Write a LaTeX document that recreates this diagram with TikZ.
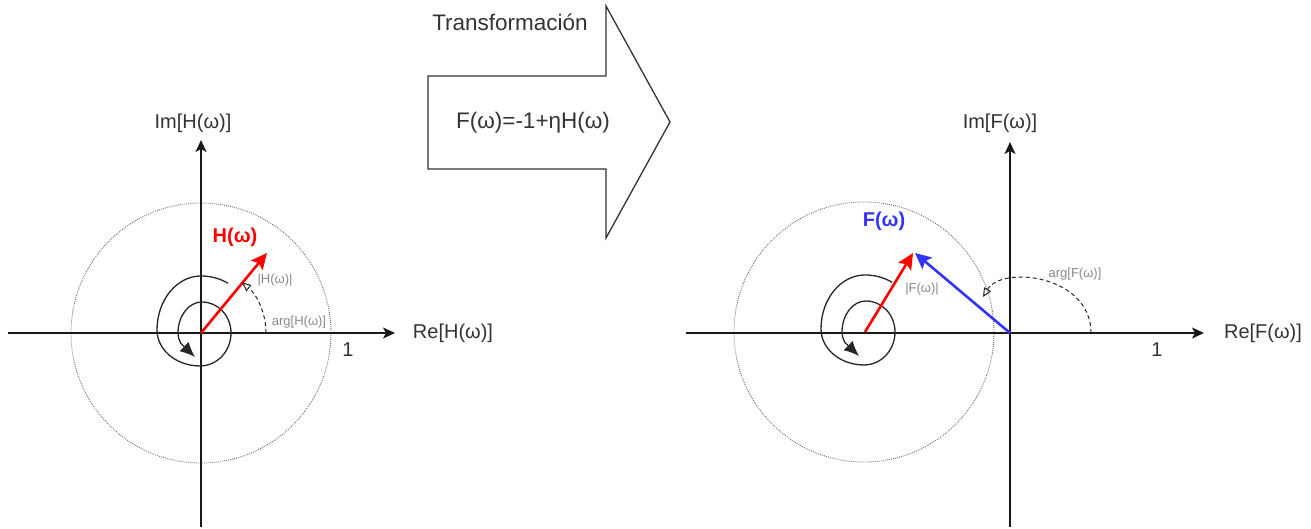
\documentclass[tikz,border=0pt]{standalone}
\usepackage{fontspec}
\setmainfont{Liberation Sans}
\usetikzlibrary{arrows.meta}
\definecolor{txt}{HTML}{333333}
\definecolor{lbl}{HTML}{8A8A8A}
\definecolor{myred}{HTML}{FF0000}
\definecolor{myblue}{HTML}{3333FF}
\definecolor{circ}{HTML}{606060}
\begin{document}
\begin{tikzpicture}[x=1pt,y=-1pt,
  axisline/.style={line width=1.4pt, draw=black!90, -{Stealth[length=12pt,width=11pt,inset=3pt]}},
  unitcirc/.style={line width=0.9pt, draw=circ, dash pattern=on 0.8pt off 1.2pt},
  bigtxt/.style={font=\fontsize{20}{24}\selectfont, text=txt, inner sep=0pt},
  arrtxt/.style={font=\fontsize{22.5}{26}\selectfont, text=txt, inner sep=0pt},
  smalltxt/.style={font=\fontsize{13}{15}\selectfont, text=lbl, inner sep=0pt},
  vecred/.style={line width=2.6pt, draw=myred, -{Stealth[length=16pt,width=15pt,inset=3pt]}},
  vecblue/.style={line width=2.6pt, draw=myblue, -{Stealth[length=16pt,width=15pt,inset=3pt]}},
  argarc/.style={line width=1pt, draw=black!85, dash pattern=on 4pt off 3pt, -{Triangle[open,length=9pt,width=8pt]}},
  spiralline/.style={line width=1.3pt, draw=black!85, -{Latex[length=15pt,width=13pt]}},
  spiralpic/.pic={\draw[spiralline] (27,-49.8)
      arc[start angle=-60, end angle=-90, radius=54]
      arc[start angle=-90, end angle=-180, x radius=44, y radius=54]
      arc[start angle=-180, end angle=-270, x radius=43, y radius=36]
      arc[start angle=-270, end angle=-360, x radius=31, y radius=33]
      arc[start angle=0, end angle=-90, x radius=29, y radius=31]
      arc[start angle=-90, end angle=-180, x radius=24, y radius=31]
      arc[start angle=-180, end angle=-215, x radius=15, y radius=18]
      -- (-6,24);}
]
\useasboundingbox (0,0) rectangle (1311,528);

% ---------- left plane ----------
\coordinate (O1) at (201,333);
\coordinate (xl1) at (8,333);
\coordinate (xr1) at (395,333);
\coordinate (yb1) at (201,527);
\coordinate (yt1) at (201,140);
\coordinate (H) at (267,253);
\draw[unitcirc] (O1) circle[radius=130];
\draw[axisline] (xl1) -- (xr1);
\draw[axisline] (yb1) -- (yt1);
\pic at (O1) {spiralpic};
\draw[vecred] (O1) -- (H);
\coordinate (a1) at (266,333);
\draw[argarc] (a1) arc[start angle=0, end angle=-51, radius=65];
\node[bigtxt] (im1) at (193,123) {Im[H(ω)]};
\node[bigtxt] (re1) at (453,333) {Re[H(ω)]};
\node[bigtxt] (one1) at (348,350) {1};
\node[font=\bfseries\fontsize{20}{24}\selectfont, text=myred, inner sep=0pt] (hl) at (235,237) {H(ω)};
\node[smalltxt] (mag1) at (275,280) {|H(ω)|};
\node[smalltxt] (arg1) at (299,322) {arg[H(ω)]};

% ---------- transformation arrow ----------
\draw[line width=1.3pt, draw=txt, line join=miter] (428,76) -- (606,76) -- (606,6) -- (670,122) -- (606,238) -- (606,169) -- (428,169) -- cycle;
\node[arrtxt] (trans) at (510,22) {Transformación};
\node[arrtxt] (formula) at (533,123) {F(ω)=-1+ηH(ω)};

% ---------- right plane ----------
\coordinate (O2) at (865,332);
\coordinate (Z2) at (1010,333);
\coordinate (xl2) at (686,333);
\coordinate (xr2) at (1204,333);
\coordinate (yb2) at (1010,527);
\coordinate (yt2) at (1010,142);
\coordinate (Ftip) at (913,253);
\coordinate (Fbtip) at (915,253);
\draw[unitcirc] (864,332) circle[radius=130];
\draw[axisline] (xl2) -- (xr2);
\draw[axisline] (yb2) -- (yt2);
\pic at (O2) {spiralpic};
\draw[vecred] (O2) -- (Ftip);
\draw[vecblue] (Z2) -- (Fbtip);
\coordinate (a2) at (1091,333);
\coordinate (a2end) at (983,297);
\draw[argarc] (a2) .. controls (1091,275) and (1002,265) .. (a2end);
\node[bigtxt] (im2) at (1000,123) {Im[F(ω)]};
\node[bigtxt] (re2) at (1263,333) {Re[F(ω)]};
\node[bigtxt] (one2) at (1157,350) {1};
\node[font=\bfseries\fontsize{20}{24}\selectfont, text=myblue, inner sep=0pt] (fl) at (884,221) {F(ω)};
\node[smalltxt] (mag2) at (922,289) {|F(ω)|};
\node[smalltxt] (arg2) at (1075,274) {arg[F(ω)]};
\end{tikzpicture}
\end{document}
